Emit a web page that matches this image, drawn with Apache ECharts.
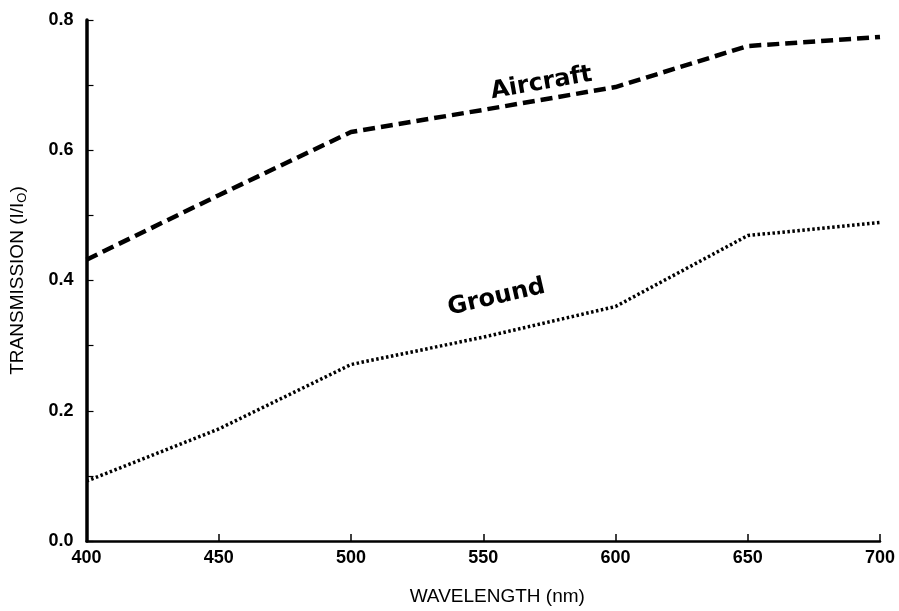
<!DOCTYPE html>
<html>
<head>
<meta charset="utf-8">
<script src="https://cdn.jsdelivr.net/npm/echarts@6/dist/echarts.min.js"></script>
<style>html,body{margin:0;padding:0;background:#fff}#c{width:899px;height:611px}</style>
</head>
<body>
<div id="c"></div>
<script>
var wavelengths = [400, 450, 500, 550, 600, 650, 700];
var aircraft = [0.432, 0.531, 0.628, 0.662, 0.697, 0.760, 0.774];
var ground = [0.092, 0.172, 0.271, 0.313, 0.360, 0.469, 0.489];
var aircraftLabel = {text: 'Aircraft', x: 572, y: 0.703, angle: 10};
var groundLabel = {text: 'Ground', x: 555, y: 0.374, angle: 13};

function pairs(xs, ys) { return xs.map(function (x, i) { return [x, ys[i]]; }); }

var chart = echarts.init(document.getElementById('c'));
var labelFont = {fontFamily: 'DejaVu Sans', fontWeight: 'bold', fontSize: 24, color: '#000'};
chart.setOption({
  animation: false,
  backgroundColor: '#fff',
  grid: {left: 85, right: 19, top: 20, bottom: 69},
  xAxis: {
    type: 'value', min: 400, max: 700, interval: 50,
    name: 'WAVELENGTH (nm)', nameLocation: 'middle', nameGap: 46,
    nameTextStyle: {fontFamily: 'Liberation Sans', fontSize: 19, color: '#000', padding: [0, 0, 0, 28]},
    axisLine: {lineStyle: {color: '#000', width: 2.5}},
    axisTick: {inside: true, length: 7, lineStyle: {color: '#000', width: 1.5}},
    axisLabel: {margin: 8, fontFamily: 'Liberation Sans', fontWeight: 'bold', fontSize: 18, color: '#000'},
    splitLine: {show: false}
  },
  yAxis: {
    type: 'value', min: 0, max: 0.8, interval: 0.1,
    name: 'TRANSMISSION (I/I{sub|O})', nameLocation: 'middle', nameGap: 58,
    nameTextStyle: {fontFamily: 'Liberation Sans', fontSize: 19, color: '#000',
      rich: {sub: {fontFamily: 'Liberation Sans', fontSize: 13, color: '#000', padding: [9, 0, 0, 0], verticalAlign: 'bottom'}}},
    axisLine: {lineStyle: {color: '#000', width: 3.5}},
    axisTick: {inside: true, length: 7, lineStyle: {color: '#000', width: 1.2}},
    axisLabel: {margin: 13, fontFamily: 'Liberation Sans', fontWeight: 'bold', fontSize: 18, color: '#000',
      formatter: function (v) { var k = Math.round(v * 10); return k % 2 === 0 ? (k / 10).toFixed(1) : ''; }},
    splitLine: {show: false}
  },
  series: [
    {
      type: 'line', data: pairs(wavelengths, aircraft), showSymbol: false, symbol: 'none',
      lineStyle: {color: '#000', width: 4.5, type: [12, 6], cap: 'butt'},
      markPoint: {
        symbol: 'circle', symbolSize: 0, silent: true,
        label: Object.assign({show: true, position: 'inside', formatter: aircraftLabel.text, rotate: aircraftLabel.angle}, labelFont),
        data: [{coord: [aircraftLabel.x, aircraftLabel.y]}]
      }
    },
    {
      type: 'line', data: pairs(wavelengths, ground), showSymbol: false, symbol: 'none',
      lineStyle: {color: '#000', width: 3.5, type: [2.5, 2.5], cap: 'butt'},
      markPoint: {
        symbol: 'circle', symbolSize: 0, silent: true,
        label: Object.assign({show: true, position: 'inside', formatter: groundLabel.text, rotate: groundLabel.angle}, labelFont),
        data: [{coord: [groundLabel.x, groundLabel.y]}]
      }
    }
  ]
});
</script>
</body>
</html>
